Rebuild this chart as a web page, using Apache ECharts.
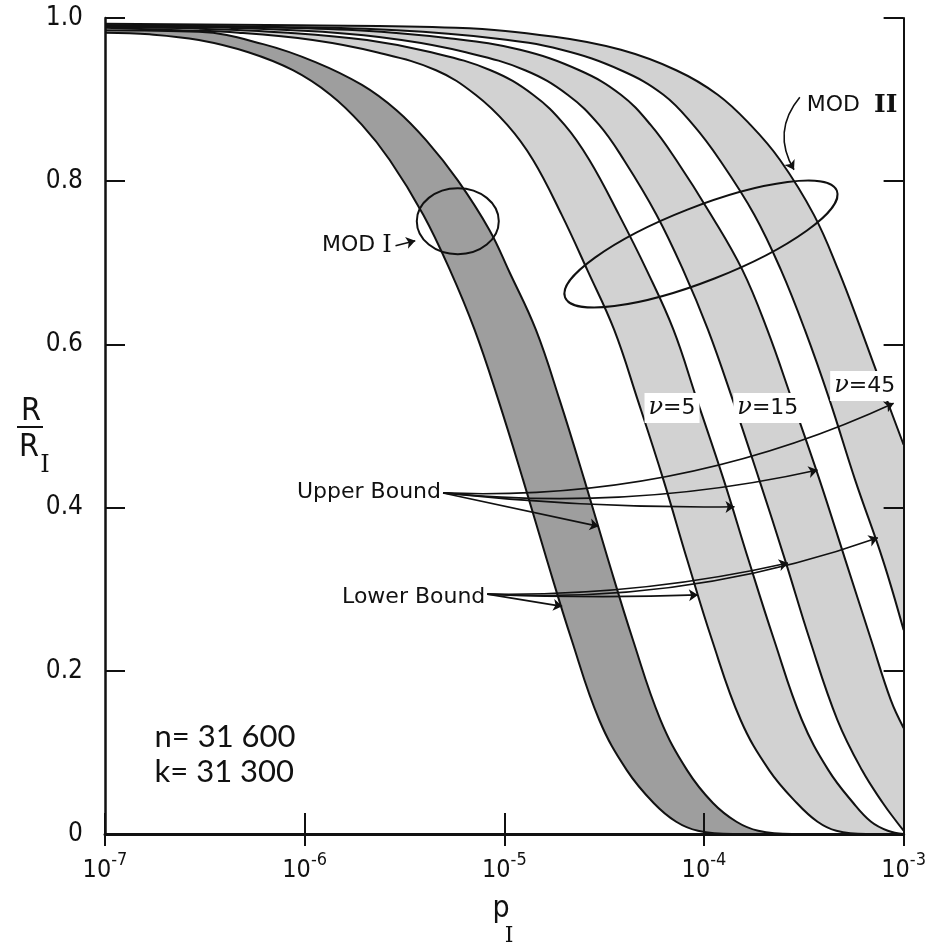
<!DOCTYPE html>
<html><head><meta charset="utf-8">
<script src="https://cdn.jsdelivr.net/npm/echarts/dist/echarts.min.js"></script>
<style>html,body{margin:0;padding:0;background:#fff}#c{width:929px;height:947px}</style>
</head><body><div id="c"></div>
<script>
// ---- tick labels ----
const xTickExponents = [-7, -6, -5, -4, -3];
const yTickValues = [0, 0.2, 0.4, 0.6, 0.8, 1.0];
const yTickLabels = ['0', '0.2', '0.4', '0.6', '0.8', '1.0'];

// ---- curves: log10(p_I) and R/R_I ----
// MOD I (dark band)
const modI_lower_logp = [-7.000,-6.777,-6.530,-6.282,-6.059,-5.871,-5.713,-5.574,-5.406,-5.272,-5.149,-5.030,-4.906,-4.787,-4.663,-4.525,-4.386,-4.252,-4.139,-4.030,-3.856,-3.000];
const modI_lower_R    = [0.982,0.980,0.973,0.958,0.936,0.906,0.869,0.826,0.759,0.691,0.618,0.532,0.434,0.336,0.238,0.140,0.078,0.038,0.015,0.004,0.000,0.000];
const modI_upper_logp = [-7.000,-6.530,-6.208,-5.946,-5.713,-5.540,-5.391,-5.233,-5.074,-4.975,-4.842,-4.723,-4.599,-4.480,-4.356,-4.218,-4.084,-3.955,-3.837,-3.728,-3.559,-3.000];
const modI_upper_R    = [0.985,0.983,0.968,0.946,0.918,0.887,0.850,0.801,0.740,0.689,0.618,0.532,0.434,0.336,0.238,0.140,0.078,0.038,0.015,0.004,0.000,0.000];
// MOD II, nu = 5
const nu5_lower_logp = [-7.000,-6.629,-6.332,-5.960,-5.639,-5.342,-5.144,-4.985,-4.856,-4.713,-4.584,-4.450,-4.332,-4.203,-4.084,-3.960,-3.817,-3.673,-3.535,-3.431,-3.337,-3.188,-3.000];
const nu5_lower_R    = [0.988,0.985,0.982,0.973,0.958,0.936,0.906,0.869,0.826,0.759,0.691,0.618,0.532,0.434,0.336,0.238,0.140,0.078,0.038,0.015,0.004,0.000,0.000];
const nu5_upper_logp = [-7.000,-6.530,-6.084,-5.688,-5.366,-5.069,-4.856,-4.698,-4.574,-4.426,-4.287,-4.153,-4.035,-3.901,-3.777,-3.649,-3.510,-3.376,-3.252,-3.163,-3.079,-3.000];
const nu5_upper_R    = [0.989,0.987,0.982,0.973,0.958,0.936,0.906,0.869,0.826,0.759,0.691,0.618,0.532,0.434,0.336,0.238,0.140,0.078,0.038,0.015,0.004,0.000];
// MOD II, nu = 15
const nu15_lower_logp = [-7.000,-6.381,-5.911,-5.515,-5.193,-4.896,-4.683,-4.525,-4.401,-4.238,-4.104,-3.980,-3.856,-3.723,-3.594,-3.470,-3.332,-3.208,-3.104,-3.035,-3.000];
const nu15_lower_R    = [0.990,0.988,0.983,0.973,0.958,0.936,0.906,0.869,0.826,0.759,0.691,0.618,0.532,0.434,0.336,0.238,0.140,0.078,0.038,0.015,0.004];
const nu15_upper_logp = [-7.000,-6.282,-5.738,-5.267,-4.921,-4.624,-4.416,-4.267,-4.139,-3.965,-3.807,-3.683,-3.559,-3.421,-3.292,-3.163,-3.064,-3.000];
const nu15_upper_R    = [0.991,0.989,0.985,0.975,0.961,0.936,0.906,0.869,0.826,0.759,0.691,0.618,0.532,0.434,0.336,0.238,0.164,0.130];
// MOD II, nu = 45
const nu45_lower_logp = [-7.000,-6.134,-5.540,-5.045,-4.713,-4.416,-4.203,-4.054,-3.921,-3.748,-3.614,-3.495,-3.371,-3.243,-3.104,-3.000];
const nu45_lower_R    = [0.991,0.989,0.985,0.975,0.961,0.936,0.906,0.869,0.826,0.759,0.691,0.618,0.532,0.434,0.336,0.250];
const nu45_upper_logp = [-7.000,-6.035,-5.243,-4.748,-4.416,-4.139,-3.931,-3.767,-3.619,-3.450,-3.327,-3.213,-3.084,-3.000];
const nu45_upper_R    = [0.993,0.991,0.988,0.977,0.961,0.936,0.906,0.869,0.826,0.759,0.691,0.618,0.532,0.477];

// ---- annotation arrows (log10 p, R): from -> to ----
const upperArrowFrom = [-5.307, 0.418];
const upperArrowTo = [[-4.527,0.377],[-3.847,0.401],[-3.431,0.446],[-3.050,0.528]];
const upperArrowCurv = [0, -0.03, -0.08, -0.12];
const lowerArrowFrom = [-5.085, 0.294];
const lowerArrowTo = [[-4.710,0.279],[-4.030,0.293],[-3.579,0.332],[-3.129,0.363]];
const lowerArrowCurv = [0, -0.02, -0.06, -0.1];

const LIGHT = '#d2d2d2', DARK = '#9e9e9e', WHITE = '#ffffff';
const NARROW = "'Liberation Sans Narrow','DejaVu Sans Condensed','Roboto Condensed',sans-serif";
const SANS = "'DejaVu Sans',sans-serif";
const SERIF = "'DejaVu Serif','Liberation Serif',serif";

const toPts = (lp, r) => lp.map((l, i) => [Math.pow(10, l), r[i]]);

// fill order: outermost first
const fillCurves = [
  [nu45_upper_logp, nu45_upper_R, LIGHT],
  [nu45_lower_logp, nu45_lower_R, WHITE],
  [nu15_upper_logp, nu15_upper_R, LIGHT],
  [nu15_lower_logp, nu15_lower_R, WHITE],
  [nu5_upper_logp, nu5_upper_R, LIGHT],
  [nu5_lower_logp, nu5_lower_R, WHITE],
  [modI_upper_logp, modI_upper_R, DARK],
  [modI_lower_logp, modI_lower_R, WHITE]
];
const SMOOTH = 0.4;
const series = [];
fillCurves.forEach((c) => {
  series.push({type:'line', data: toPts(c[0], c[1]), smooth: SMOOTH, showSymbol:false, silent:true,
    lineStyle:{width:0, opacity:0}, areaStyle:{color:c[2], opacity:1}, z:1});
});
fillCurves.forEach((c) => {
  series.push({type:'line', data: toPts(c[0], c[1]), smooth: SMOOTH, showSymbol:false, silent:true,
    lineStyle:{width:2, color:'#111'}, z:3});
});
const arrowData = [];
upperArrowTo.forEach((t, i) => arrowData.push({coords:[[Math.pow(10,upperArrowFrom[0]), upperArrowFrom[1]],[Math.pow(10,t[0]), t[1]]], lineStyle:{curveness:upperArrowCurv[i]}}));
lowerArrowTo.forEach((t, i) => arrowData.push({coords:[[Math.pow(10,lowerArrowFrom[0]), lowerArrowFrom[1]],[Math.pow(10,t[0]), t[1]]], lineStyle:{curveness:lowerArrowCurv[i]}}));
// MOD I / MOD II pointer arrows
arrowData.push({coords:[[Math.pow(10,-5.545),0.721],[Math.pow(10,-5.446),0.727]], lineStyle:{curveness:0}});
arrowData.push({coords:[[Math.pow(10,-3.520),0.903],[Math.pow(10,-3.549),0.814]], lineStyle:{curveness:-0.35}});
series.push({type:'lines', coordinateSystem:'cartesian2d', silent:true, z:5,
  symbol:['none','arrow'], symbolSize:9, lineStyle:{color:'#111', width:1.6, opacity:1}, data: arrowData});

const chart = echarts.init(document.getElementById('c'), null, {renderer:'canvas'});
const option = {
  backgroundColor:'#fff',
  animation:false,
  grid:{left:105, right:16, top:18, bottom:113, containLabel:false},
  xAxis:[
    {type:'log', logBase:10, min:1e-7, max:1e-3, position:'bottom', z:10,
     axisLine:{lineStyle:{color:'#111', width:3}},
     axisTick:{inside:true, length:21, lineStyle:{color:'#111', width:2}},
     minorTick:{show:false}, splitLine:{show:false},
     axisLabel:{margin:17, color:'#111',
       formatter: v => '{b|10}{s|' + Math.round(Math.log10(v)) + '}',
       rich:{b:{fontSize:25, fontFamily:NARROW, verticalAlign:'bottom', color:'#111'},
             s:{fontSize:18, fontFamily:NARROW, verticalAlign:'bottom', padding:[0,0,14,0], color:'#111'}}}},
    {type:'log', logBase:10, min:1e-7, max:1e-3, position:'top', z:10,
     axisLine:{lineStyle:{color:'#111', width:2}},
     axisTick:{inside:true, length:12, lineStyle:{color:'#111', width:2}},
     axisLabel:{show:false}, splitLine:{show:false}, minorTick:{show:false}}
  ],
  yAxis:[
    {type:'value', min:0, max:1, interval:0.2, position:'left', z:10,
     axisLine:{show:true, lineStyle:{color:'#111', width:2.5}},
     axisTick:{show:true, inside:true, length:20, lineStyle:{color:'#111', width:2}},
     splitLine:{show:false},
     axisLabel:{margin:22, color:'#111', fontSize:26, fontFamily:NARROW,
       formatter: v => { const i = yTickValues.findIndex(t => Math.abs(t - v) < 1e-9); return i >= 0 ? yTickLabels[i] : ''; }}},
    {type:'value', min:0, max:1, interval:0.2, position:'right', z:10,
     axisLine:{show:true, lineStyle:{color:'#111', width:2}},
     axisTick:{show:true, inside:true, length:20, lineStyle:{color:'#111', width:2}},
     splitLine:{show:false}, axisLabel:{show:false}}
  ],
  series: series
};
chart.setOption(option);

const px = (lp, r) => chart.convertToPixel({xAxisIndex:0, yAxisIndex:0}, [Math.pow(10, lp), r]);
const g = [];
// MOD I ellipse and label
let c1 = px(-5.233, 0.751);
g.push({type:'ellipse', x:c1[0], y:c1[1], shape:{cx:0, cy:0, rx:41, ry:33}, style:{fill:null, stroke:'#111', lineWidth:2}, z:20});
let t1 = px(-5.564, 0.721);
g.push({type:'text', x:t1[0], y:t1[1], z:20, style:{text:'{a|MOD }{r|I}', align:'right', verticalAlign:'middle',
  rich:{a:{fontSize:22, fontFamily:SANS, fill:'#111'}, r:{fontSize:24, fontFamily:SERIF, fill:'#111'}}}});
// MOD II ellipse and label
let c2 = px(-4.015, 0.723);
g.push({type:'ellipse', x:c2[0], y:c2[1], rotation:21.4*Math.PI/180, shape:{cx:0, cy:0, rx:146, ry:37}, style:{fill:null, stroke:'#111', lineWidth:2}, z:20});
let t2 = px(-3.485, 0.893);
g.push({type:'text', x:t2[0], y:t2[1], z:20, style:{text:'{a|MOD  }{r|II}', align:'left', verticalAlign:'middle',
  rich:{a:{fontSize:22, fontFamily:SANS, fill:'#111'}, r:{fontSize:25, fontFamily:SERIF, fontWeight:'bold', fill:'#111'}}}});
// Upper / Lower bound
let tu = px(-5.307, 0.419);
g.push({type:'text', x:tu[0] - 2, y:tu[1], z:20, style:{text:'Upper Bound', align:'right', verticalAlign:'middle', fontSize:22, fontFamily:SANS, fill:'#111'}});
let tl = px(-5.085, 0.290);
g.push({type:'text', x:tl[0] - 2, y:tl[1], z:20, style:{text:'Lower Bound', align:'right', verticalAlign:'middle', fontSize:22, fontFamily:SANS, fill:'#111'}});
// nu labels
const nuLabels = [['5', -4.160, 0.522], ['15', -3.680, 0.522], ['45', -3.195, 0.549]];
nuLabels.forEach(n => {
  const p = px(n[1], n[2]);
  g.push({type:'text', x:p[0], y:p[1], z:20, style:{text:'{n|ν}{t|=' + n[0] + '}', align:'center', verticalAlign:'middle',
    backgroundColor:'#fff', padding:[3,4,3,4],
    rich:{n:{fontSize:24, fontFamily:SERIF, fontStyle:'italic', fill:'#111'}, t:{fontSize:22, fontFamily:SANS, fill:'#111'}}}});
});
// n, k
let tn = px(-6.752, 0.119), tk = px(-6.752, 0.076);
g.push({type:'text', x:tn[0], y:tn[1], z:20, style:{text:'n= 31 600', align:'left', verticalAlign:'middle', fontSize:31, fontFamily:"Lato,'DejaVu Sans',sans-serif", fill:'#111'}});
g.push({type:'text', x:tk[0], y:tk[1], z:20, style:{text:'k= 31 300', align:'left', verticalAlign:'middle', fontSize:31, fontFamily:"Lato,'DejaVu Sans',sans-serif", fill:'#111'}});
// axis titles
g.push({type:'text', x:31, y:412, z:20, style:{text:'R', align:'center', verticalAlign:'middle', fontSize:32, fontFamily:NARROW, fill:'#111'}});
g.push({type:'line', z:20, shape:{x1:17, y1:427, x2:43, y2:427}, style:{stroke:'#111', lineWidth:2}});
g.push({type:'text', x:29, y:448, z:20, style:{text:'R', align:'center', verticalAlign:'middle', fontSize:32, fontFamily:NARROW, fill:'#111'}});
g.push({type:'text', x:45, y:466, z:20, style:{text:'I', align:'center', verticalAlign:'middle', fontSize:24, fontFamily:SERIF, fill:'#111'}});
g.push({type:'text', x:501, y:909, z:20, style:{text:'p', align:'center', verticalAlign:'middle', fontSize:30, fontFamily:NARROW, fill:'#111'}});
g.push({type:'text', x:509, y:936, z:20, style:{text:'I', align:'center', verticalAlign:'middle', fontSize:22, fontFamily:SERIF, fill:'#111'}});
chart.setOption({graphic: g});
</script>
</body></html>
